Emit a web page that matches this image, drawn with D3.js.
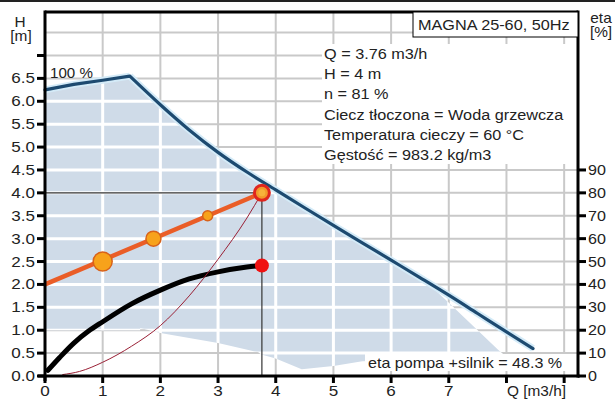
<!DOCTYPE html>
<html>
<head>
<meta charset="utf-8">
<script src="https://cdn.jsdelivr.net/npm/d3@7"></script>
<style>
  html, body { margin: 0; padding: 0; background: #fff; }
  svg { display: block; font-family: "Liberation Sans", Arial, sans-serif; }
</style>
</head>
<body>
<svg id="chart" width="615" height="401"></svg>
<script>
// Axis ticks
const qTicks = [0, 1, 2, 3, 4, 5, 6, 7, 8, 9];
const qTickLabels = ["0", "1", "2", "3", "4", "5", "6", "7", "", ""];
const hTicks = [0, 0.5, 1, 1.5, 2, 2.5, 3, 3.5, 4, 4.5, 5, 5.5, 6, 6.5, 7];
const hTickLabels = ["0.0","0.5","1.0","1.5","2.0","2.5","3.0","3.5","4.0","4.5","5.0","5.5","6.0","6.5",""];
const hGrid = [0.5, 1, 1.5, 2, 2.5, 3, 3.5, 4, 4.5, 5, 5.5, 6, 6.5, 7, 7.5];
const qGrid = [1, 2, 3, 4, 5, 6, 7, 8, 9];
const etaTicks = [0, 10, 20, 30, 40, 50, 60, 70, 80, 90];

// Max speed curve (100 %), rising part and falling part
const maxRiseQ = [0, 0.5, 1.0, 1.47];
const maxRiseH = [6.25, 6.37, 6.46, 6.55];
const maxFallQ = [1.47, 2.0, 2.5, 3.0, 3.5, 4.0, 4.5, 5.0, 5.5, 6.0, 6.5, 7.0, 7.5, 8.0, 8.46];
const maxFallH = [6.55, 5.925, 5.375, 4.885, 4.455, 4.065, 3.675, 3.29, 2.91, 2.53, 2.15, 1.765, 1.365, 0.965, 0.60];

// Operating range: right edge and lower edge
const rangeEdgeQ = [6.6, 7.0, 7.85, 8.05];
const rangeEdgeH = [2.07, 1.6, 0.58, 0.36];
const rangeLowQ = [8.05, 7.0, 6.0, 5.5, 5.0, 4.45, 4.0, 3.75, 3.7, 3.0, 2.0, 1.65, 1.65, 0];
const rangeLowH = [0.36, 0.35, 0.34, 0.32, 0.22, 0.15, 0.38, 0.47, 0.52, 0.72, 0.94, 1.05, 1.0, 1.0];

// Proportional pressure control curve
const ctrlQ = [0, 3.76];
const ctrlH = [2.0, 4.0];
const ctrlMarkQ = [1.0, 1.88, 2.82];
const ctrlMarkH = [2.5, 3.0, 3.5];

// System curve
const sysQ = [0.3, 0.6, 1.0, 1.5, 2.0, 2.5, 3.0, 3.5, 3.76];
const sysH = [0.03, 0.1, 0.3, 0.65, 1.1, 1.75, 2.55, 3.45, 4.0];

// Efficiency pump + motor [%]
const etaQ = [0.05, 0.25, 0.5, 0.75, 1.0, 1.5, 2.0, 2.5, 3.0, 3.5, 3.76];
const etaV = [2.5, 8, 14.4, 19.5, 23.7, 31.5, 37.5, 42.4, 45.5, 47.6, 48.3];

// Duty point
const dutyQ = 3.76, dutyH = 4.0, dutyEta = 48.3;

const titleText = "MAGNA 25-60, 50Hz";
const infoLines = [
  "Q = 3.76 m3/h",
  "H = 4 m",
  "n = 81 %",
  "Ciecz tłoczona = Woda grzewcza",
  "Temperatura cieczy = 60 °C",
  "Gęstość = 983.2 kg/m3"
];

const svg = d3.select("#chart");
const X0 = 45, X1 = 578, Y0 = 376, Y1 = 12;
const x = d3.scaleLinear().domain([0, 9.24]).range([X0, X1]);
const y = d3.scaleLinear().domain([0, 7.95]).range([Y0, Y1]);
const yEta = d3.scaleLinear().domain([0, 159]).range([Y0, Y1]);

const zip = (qs, hs) => qs.map((q, i) => [q, hs[i]]);
const lineH = d3.line().x(d => x(d[0])).y(d => y(d[1]));

// gray grid
const grid = svg.append("g");
grid.selectAll("line.h").data(hGrid).join("line")
  .attr("x1", X0).attr("x2", X1).attr("y1", d => y(d)).attr("y2", d => y(d))
  .attr("stroke", "#c9c9c9").attr("stroke-width", 2);
grid.selectAll("line.v").data(qGrid).join("line")
  .attr("x1", d => x(d)).attr("x2", d => x(d)).attr("y1", Y1).attr("y2", Y0)
  .attr("stroke", "#c9c9c9").attr("stroke-width", 2);

// operating range fill
const rangePts = zip(maxRiseQ, maxRiseH)
  .concat(zip(maxFallQ, maxFallH).filter(d => d[0] > 1.47 && d[0] < 6.6))
  .concat(zip(rangeEdgeQ, rangeEdgeH))
  .concat(zip(rangeLowQ, rangeLowH));
const rangePath = lineH(rangePts) + "Z";
svg.append("clipPath").attr("id", "rangeClip").append("path").attr("d", rangePath);
svg.append("path").attr("d", rangePath).attr("fill", "#cfdbe8");

// white grid inside the range
const wgrid = svg.append("g").attr("clip-path", "url(#rangeClip)");
wgrid.selectAll("line.h").data(hGrid).join("line")
  .attr("x1", X0).attr("x2", X1).attr("y1", d => y(d)).attr("y2", d => y(d))
  .attr("stroke", "#fff").attr("stroke-width", 3);
wgrid.selectAll("line.v").data(qGrid).join("line")
  .attr("x1", d => x(d)).attr("x2", d => x(d)).attr("y1", Y1).attr("y2", Y0)
  .attr("stroke", "#fff").attr("stroke-width", 3);

// info text block background
svg.append("rect").attr("x", 322).attr("y", 44).attr("width", X1 - 322).attr("height", 120).attr("fill", "#fff");

// duty point guide lines
svg.append("line").attr("x1", X0).attr("x2", x(dutyQ)).attr("y1", y(dutyH)).attr("y2", y(dutyH))
  .attr("stroke", "#333").attr("stroke-width", 1.2);
svg.append("line").attr("x1", x(dutyQ)).attr("x2", x(dutyQ)).attr("y1", y(dutyH)).attr("y2", Y0)
  .attr("stroke", "#333").attr("stroke-width", 1.2);

// max curve with halo
const smooth = d3.line().x(d => x(d[0])).y(d => y(d[1])).curve(d3.curveMonotoneX);
const maxPath = lineH(zip(maxRiseQ, maxRiseH)) + smooth(zip(maxFallQ, maxFallH));
svg.append("path").attr("d", maxPath).attr("fill", "none")
  .attr("stroke", "#d4ebf8").attr("stroke-width", 7).attr("stroke-linejoin", "round");
svg.append("path").attr("d", maxPath).attr("fill", "none")
  .attr("stroke", "#1d4a70").attr("stroke-width", 3.2).attr("stroke-linejoin", "round").attr("stroke-linecap", "round");

// efficiency curve
const etaLine = d3.line().x(d => x(d[0])).y(d => yEta(d[1])).curve(d3.curveMonotoneX);
svg.append("path").attr("d", etaLine(zip(etaQ, etaV))).attr("fill", "none")
  .attr("stroke", "#000").attr("stroke-width", 5).attr("stroke-linecap", "round");

// system curve
svg.append("path").attr("d", smooth(zip(sysQ, sysH))).attr("fill", "none")
  .attr("stroke", "#9a2035").attr("stroke-width", 1);

// control curve
svg.append("path").attr("d", lineH(zip(ctrlQ, ctrlH))).attr("fill", "none")
  .attr("stroke", "#ea5d27").attr("stroke-width", 4.5);
const markR = [9.5, 7.5, 5];
svg.selectAll("circle.mark").data(zip(ctrlMarkQ, ctrlMarkH)).join("circle")
  .attr("cx", d => x(d[0])).attr("cy", d => y(d[1])).attr("r", (d, i) => markR[i])
  .attr("fill", "#f7a21b").attr("stroke", "#d8621a").attr("stroke-width", 1.5);

// duty point markers
svg.append("circle").attr("cx", x(dutyQ)).attr("cy", y(dutyH)).attr("r", 7.5)
  .attr("fill", "#f29a2a").attr("stroke", "#e0261e").attr("stroke-width", 3);
svg.append("circle").attr("cx", x(dutyQ)).attr("cy", y(dutyH)).attr("r", 3.5)
  .attr("fill", "#f7b23a");
svg.append("circle").attr("cx", x(dutyQ)).attr("cy", yEta(dutyEta)).attr("r", 7)
  .attr("fill", "#f01212");

// frame and axes
const ax = svg.append("g").attr("stroke", "#000").attr("stroke-width", 3);
ax.append("line").attr("x1", X0).attr("x2", X1).attr("y1", Y1).attr("y2", Y1);
ax.append("line").attr("x1", X0).attr("x2", X0).attr("y1", Y1 - 1.5).attr("y2", Y0 + 5);
ax.append("line").attr("x1", X1).attr("x2", X1).attr("y1", Y1 - 1.5).attr("y2", Y0 + 1.5);
ax.append("line").attr("x1", X0 - 7).attr("x2", X1 + 1.5).attr("y1", Y0).attr("y2", Y0);
ax.selectAll("line.ht").data(hTicks).join("line")
  .attr("x1", X0 - 8).attr("x2", X0).attr("y1", d => y(d)).attr("y2", d => y(d));
ax.selectAll("line.qt").data(qTicks).join("line")
  .attr("x1", d => x(d)).attr("x2", d => x(d)).attr("y1", Y0).attr("y2", Y0 + 7);
ax.selectAll("line.et").data(etaTicks).join("line")
  .attr("x1", X1).attr("x2", X1 + 8).attr("y1", d => yEta(d)).attr("y2", d => yEta(d));

// efficiency label background
svg.append("rect").attr("x", 365).attr("y", 354).attr("width", 203).attr("height", 17).attr("fill", "#fff");

// title box
svg.append("rect").attr("x", 413).attr("y", Y1).attr("width", X1 - 413).attr("height", 25)
  .attr("fill", "#fff").attr("stroke", "#000").attr("stroke-width", 1);

// all text, slightly widened glyphs
const txt = svg.append("g").attr("fill", "#222").attr("font-size", 14);
function label(px, py, s, anchor, sx) {
  return txt.append("text")
    .attr("transform", `translate(${px},${py}) scale(${sx || 1.15},1)`)
    .attr("text-anchor", anchor || "start").text(s);
}
hTicks.forEach((d, i) => label(35, y(d) + 5, hTickLabels[i], "end", 1.22));
qTicks.forEach((d, i) => label(x(d), 396, qTickLabels[i], "middle", 1.22));
etaTicks.forEach(d => label(X1 + 10, yEta(d) + 5, String(d), "start", 1.15));

label(20, 27, "H", "middle", 1.1);
label(21, 41, "[m]", "middle", 1.1);
label(601, 23, "eta", "middle", 1.1);
label(601, 37, "[%]", "middle", 1.1);
label(507, 396, "Q [m3/h]", "start", 1.1);
label(50, 78, "100 %", "start", 1.08);
label(368, 368, "eta pompa +silnik = " + dutyEta + " %", "start", 1.15);
label(418, 30, titleText, "start", 1.16);
infoLines.forEach((s, i) => label(324, 59 + i * 20.2, s, "start", 1.16));

// top border strip
svg.append("rect").attr("x", 0).attr("y", 0).attr("width", 615).attr("height", 2).attr("fill", "#222");
</script>
</body>
</html>
